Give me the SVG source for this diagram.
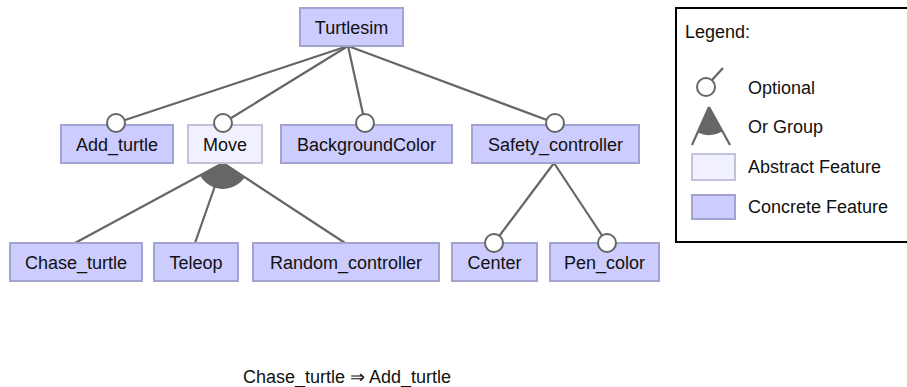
<svg xmlns="http://www.w3.org/2000/svg" width="907" height="387" viewBox="0 0 907 387">
<style>
text{font-family:"Liberation Sans",Arial,sans-serif;font-size:18px;fill:#111}
.c{fill:#ccccff;stroke:#a3a3cf;stroke-width:2}
.a{fill:#f0f0ff;stroke:#c2c2dc;stroke-width:2}
.l{stroke:#666;stroke-width:2.2;fill:none}
.o{fill:#fff;stroke:#666;stroke-width:2}
.g{fill:#666;stroke:none}
.m{text-anchor:middle}
</style>
<rect width="907" height="387" fill="#fff"/>
<g id="connectors">
<line class="l" x1="348" y1="46" x2="116" y2="123"/>
<line class="l" x1="348" y1="46" x2="223" y2="123"/>
<line class="l" x1="348" y1="46" x2="365" y2="123"/>
<line class="l" x1="348" y1="46" x2="555" y2="123"/>
<line class="l" x1="223" y1="163" x2="75" y2="243"/>
<line class="l" x1="223" y1="163" x2="195" y2="243"/>
<line class="l" x1="223" y1="163" x2="345" y2="243"/>
<path class="g" d="M223,163 L200.1,175.4 A26,26 0 0,0 244.7,177.2 Z"/>
<line class="l" x1="554" y1="163" x2="494" y2="243"/>
<line class="l" x1="554" y1="163" x2="607" y2="243"/>
</g>
<g id="Turtlesim"><rect class="c" x="300" y="8" width="103" height="38"/><text class="m" x="351.5" y="33.5">Turtlesim</text></g>
<g id="Add_turtle"><rect class="c" x="61" y="125" width="112" height="38"/><text class="m" x="117" y="151">Add_turtle</text><circle class="o" cx="116" cy="123" r="9"/></g>
<g id="Move"><rect class="a" x="188" y="125" width="74" height="38"/><text class="m" x="225" y="151">Move</text><circle class="o" cx="223" cy="123" r="9"/></g>
<g id="BackgroundColor"><rect class="c" x="281" y="125" width="171" height="38"/><text class="m" x="366.5" y="151">BackgroundColor</text><circle class="o" cx="365" cy="123" r="9"/></g>
<g id="Safety_controller"><rect class="c" x="472" y="125" width="167" height="38"/><text class="m" x="555.5" y="151">Safety_controller</text><circle class="o" cx="555" cy="123" r="9"/></g>
<g id="Chase_turtle"><rect class="c" x="10" y="243" width="132" height="38"/><text class="m" x="76" y="269">Chase_turtle</text></g>
<g id="Teleop"><rect class="c" x="154" y="243" width="84" height="38"/><text class="m" x="196" y="269">Teleop</text></g>
<g id="Random_controller"><rect class="c" x="253" y="243" width="186" height="38"/><text class="m" x="346" y="269">Random_controller</text></g>
<g id="Center"><rect class="c" x="452" y="243" width="85" height="38"/><text class="m" x="494.5" y="269">Center</text><circle class="o" cx="494" cy="243" r="9"/></g>
<g id="Pen_color"><rect class="c" x="550" y="243" width="109" height="38"/><text class="m" x="604.5" y="269">Pen_color</text><circle class="o" cx="607" cy="243" r="9"/></g>
<g id="legend">
<rect x="676" y="8" width="240" height="234" fill="#fff" stroke="#000" stroke-width="2"/>
<text x="685" y="38">Legend:</text>
<line class="l" x1="712" y1="80" x2="723" y2="68"/>
<circle class="o" cx="706" cy="87" r="9"/>
<text x="748" y="94">Optional</text>
<path class="g" d="M709,107 L697.6,132.6 A28,28 0 0,0 722.5,131.5 Z"/>
<line class="l" x1="709" y1="107" x2="692" y2="145"/>
<line class="l" x1="709" y1="107" x2="730" y2="145"/>
<text x="748" y="133">Or Group</text>
<rect class="a" x="692" y="154" width="43" height="26"/>
<text x="748" y="173">Abstract Feature</text>
<rect class="c" x="692" y="195" width="43" height="24"/>
<text x="748" y="213">Concrete Feature</text>
</g>
<text x="243" y="383">Chase_turtle ⇒ Add_turtle</text>
</svg>
